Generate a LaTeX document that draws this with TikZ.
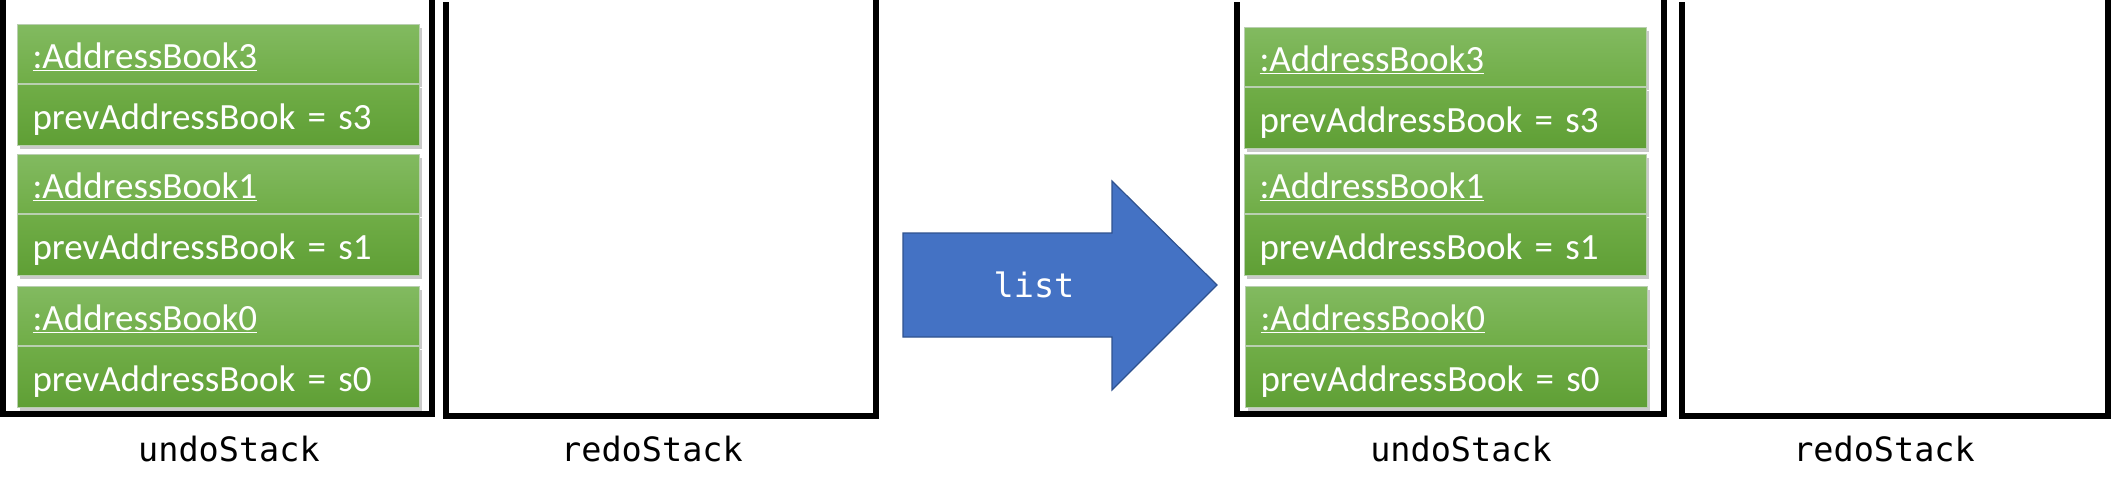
\documentclass[tikz,border=0pt]{standalone}
\usepackage{fontspec}
\setmainfont{Carlito}
\newfontfamily\monofont{DejaVu Sans Mono}
\usetikzlibrary{calc,shadows}
\definecolor{gtop}{HTML}{82BA60}
\definecolor{gmid}{HTML}{70AD47}
\definecolor{gbot}{HTML}{5F9F35}
\definecolor{gline}{HTML}{B9CFB0}
\definecolor{arrowfill}{HTML}{4472C4}
\definecolor{arrowline}{HTML}{2F528F}
\tikzset{
  wall/.style={line width=6pt, line join=miter, black},
  compart/.style={rectangle, draw=gline, line width=1pt, anchor=north west,
    minimum width=402pt, text width=372pt, inner xsep=15pt, inner ysep=0pt,
    text height=31pt, text depth=2pt, align=left, text=white,
    font=\fontsize{37}{44}\selectfont,
    drop shadow={shadow xshift=2pt, shadow yshift=-3pt, opacity=0.35, fill=black!60}},
  headpart/.style={compart, minimum height=59pt, top color=gtop, bottom color=gmid},
  bodypart/.style={compart, minimum height=61pt, top color=gmid, bottom color=gbot},
  stacklabel/.style={anchor=base, font=\monofont\fontsize{33.5}{40}\selectfont},
  arrowtext/.style={anchor=base, text=white, font=\monofont\fontsize{33.5}{40}\selectfont},
}
\begin{document}
\begin{tikzpicture}[x=1pt, y=-1pt]
\useasboundingbox (0,0) rectangle (2111,496);
% stacks
\coordinate (us1tl) at (2.5,0);
\coordinate (us1tr) at (431.5,0);
\draw[wall] (us1tl) |- (431.5,413.5) -- (us1tr);
\coordinate (rs1tl) at (446,2);
\coordinate (rs1tr) at (876,0);
\draw[wall] (rs1tl) |- (876,415.5) -- (rs1tr);
\coordinate (us2tl) at (1237,2);
\coordinate (us2tr) at (1664,0);
\draw[wall] (us2tl) |- (1664,414) -- (us2tr);
\coordinate (rs2tl) at (1682,2);
\coordinate (rs2tr) at (2108,0);
\draw[wall] (rs2tl) |- (2108,415.5) -- (rs2tr);
% left undo stack contents
\node[headpart] (L3h) at (17,24) {\underline{:AddressBook3}};
\node[bodypart] (L3b) at (L3h.south west) {prevAddressBook = s3};
\node[headpart] (L1h) at (17,154) {\underline{:AddressBook1}};
\node[bodypart] (L1b) at (L1h.south west) {prevAddressBook = s1};
\node[headpart] (L0h) at (17,286) {\underline{:AddressBook0}};
\node[bodypart] (L0b) at (L0h.south west) {prevAddressBook = s0};
% right undo stack contents
\node[headpart] (R3h) at (1244,27) {\underline{:AddressBook3}};
\node[bodypart] (R3b) at (R3h.south west) {prevAddressBook = s3};
\node[headpart] (R1h) at (1244,154) {\underline{:AddressBook1}};
\node[bodypart] (R1b) at (R1h.south west) {prevAddressBook = s1};
\node[headpart] (R0h) at (1245,286) {\underline{:AddressBook0}};
\node[bodypart] (R0b) at (R0h.south west) {prevAddressBook = s0};
% labels
\node[stacklabel] (ul1) at (229,461) {undoStack};
\node[stacklabel] (rl1) at (652,461) {redoStack};
\node[stacklabel] (ul2) at (1461,461) {undoStack};
\node[stacklabel] (rl2) at (1884,461) {redoStack};
% big arrow
\filldraw[fill=arrowfill, draw=arrowline, line width=1.2pt, line join=miter]
  (903,233) -- (1112,233) -- (1112,181) -- (1217,285) -- (1112,390) -- (1112,337) -- (903,337) -- cycle;
\node[arrowtext] (cmd) at (1034,297) {list};
\end{tikzpicture}
\end{document}
